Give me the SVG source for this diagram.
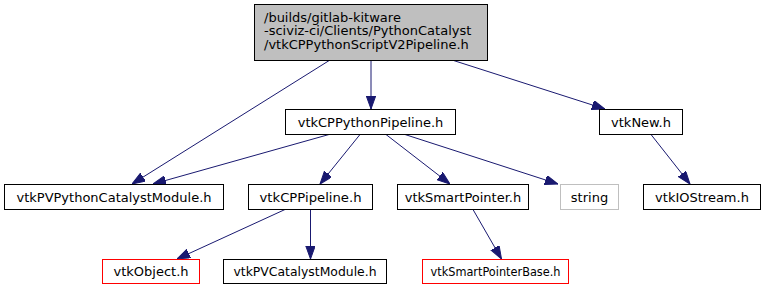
<svg xmlns="http://www.w3.org/2000/svg" width="765" height="291" viewBox="0 0 765 291">
  <style>
    .node rect { fill: #ffffff; stroke: #000000; stroke-width: 1; }
    .node.root rect { fill: #bfbfbf; }
    .node.ext rect { stroke: #bfbfbf; }
    .node.missing rect { stroke: #ff0000; }
    .node text { font-family: "DejaVu Sans", sans-serif; font-size: 13px; fill: #000000; text-anchor: middle; }
    .node.root text { text-anchor: start; }
    .edges line { stroke: #191970; stroke-width: 1; fill: none; marker-end: url(#arrow); }
  </style>
  <defs>
    <marker id="arrow" markerUnits="userSpaceOnUse" markerWidth="13" markerHeight="10" refX="13" refY="4.7" orient="auto">
      <path d="M0,0 L13,4.7 L0,9.4 z" fill="#191970" stroke="#191970" stroke-width="1"/>
    </marker>
  </defs>
  <rect x="0" y="0" width="765" height="291" fill="#ffffff"/>

  <g class="edges" id="edges">
    <line x1="330" y1="60" x2="132" y2="184"/>
    <line x1="371" y1="60" x2="371" y2="109"/>
    <line x1="452" y1="60" x2="605" y2="109"/>
    <line x1="329" y1="134.5" x2="153" y2="184"/>
    <line x1="360" y1="134.5" x2="320" y2="184"/>
    <line x1="386" y1="134.5" x2="450" y2="184"/>
    <line x1="405" y1="134.5" x2="558" y2="184"/>
    <line x1="651" y1="134.5" x2="690" y2="184"/>
    <line x1="285" y1="209.5" x2="177" y2="259"/>
    <line x1="310.5" y1="209.5" x2="310.5" y2="259"/>
    <line x1="473" y1="209.5" x2="501.5" y2="259"/>
  </g>

  <g class="node root" id="node-vtkCPPythonScriptV2Pipeline">
    <rect x="254.5" y="4.5" width="233" height="56"/>
    <text x="264" y="21.5">/builds/gitlab-kitware</text>
    <text x="264" y="35">-sciviz-ci/Clients/PythonCatalyst</text>
    <text x="264" y="48.5">/vtkCPPythonScriptV2Pipeline.h</text>
  </g>

  <g class="node" id="node-vtkCPPythonPipeline">
    <rect x="285.5" y="109.5" width="170" height="25"/>
    <text x="370.5" y="126.5">vtkCPPythonPipeline.h</text>
  </g>

  <g class="node" id="node-vtkNew">
    <rect x="599.5" y="109.5" width="83" height="25"/>
    <text x="641" y="126.5">vtkNew.h</text>
  </g>

  <g class="node" id="node-vtkPVPythonCatalystModule">
    <rect x="4.5" y="184.5" width="219" height="25"/>
    <text x="114" y="201.5">vtkPVPythonCatalystModule.h</text>
  </g>

  <g class="node" id="node-vtkCPPipeline">
    <rect x="248.5" y="184.5" width="124" height="25"/>
    <text x="310.5" y="201.5" textLength="102" lengthAdjust="spacingAndGlyphs">vtkCPPipeline.h</text>
  </g>

  <g class="node" id="node-vtkSmartPointer">
    <rect x="397.5" y="184.5" width="131" height="25"/>
    <text x="463" y="201.5">vtkSmartPointer.h</text>
  </g>

  <g class="node ext" id="node-string">
    <rect x="560.5" y="184.5" width="58" height="25"/>
    <text x="589.5" y="201.5">string</text>
  </g>

  <g class="node" id="node-vtkIOStream">
    <rect x="643.5" y="184.5" width="117" height="25"/>
    <text x="702" y="201.5">vtkIOStream.h</text>
  </g>

  <g class="node missing" id="node-vtkObject">
    <rect x="102.5" y="259.5" width="97" height="24"/>
    <text x="151" y="276">vtkObject.h</text>
  </g>

  <g class="node" id="node-vtkPVCatalystModule">
    <rect x="223.5" y="259.5" width="163" height="24"/>
    <text x="305" y="276" textLength="143" lengthAdjust="spacingAndGlyphs">vtkPVCatalystModule.h</text>
  </g>

  <g class="node missing" id="node-vtkSmartPointerBase">
    <rect x="422.5" y="259.5" width="146" height="24"/>
    <text x="495.5" y="276" textLength="130" lengthAdjust="spacingAndGlyphs">vtkSmartPointerBase.h</text>
  </g>
</svg>
